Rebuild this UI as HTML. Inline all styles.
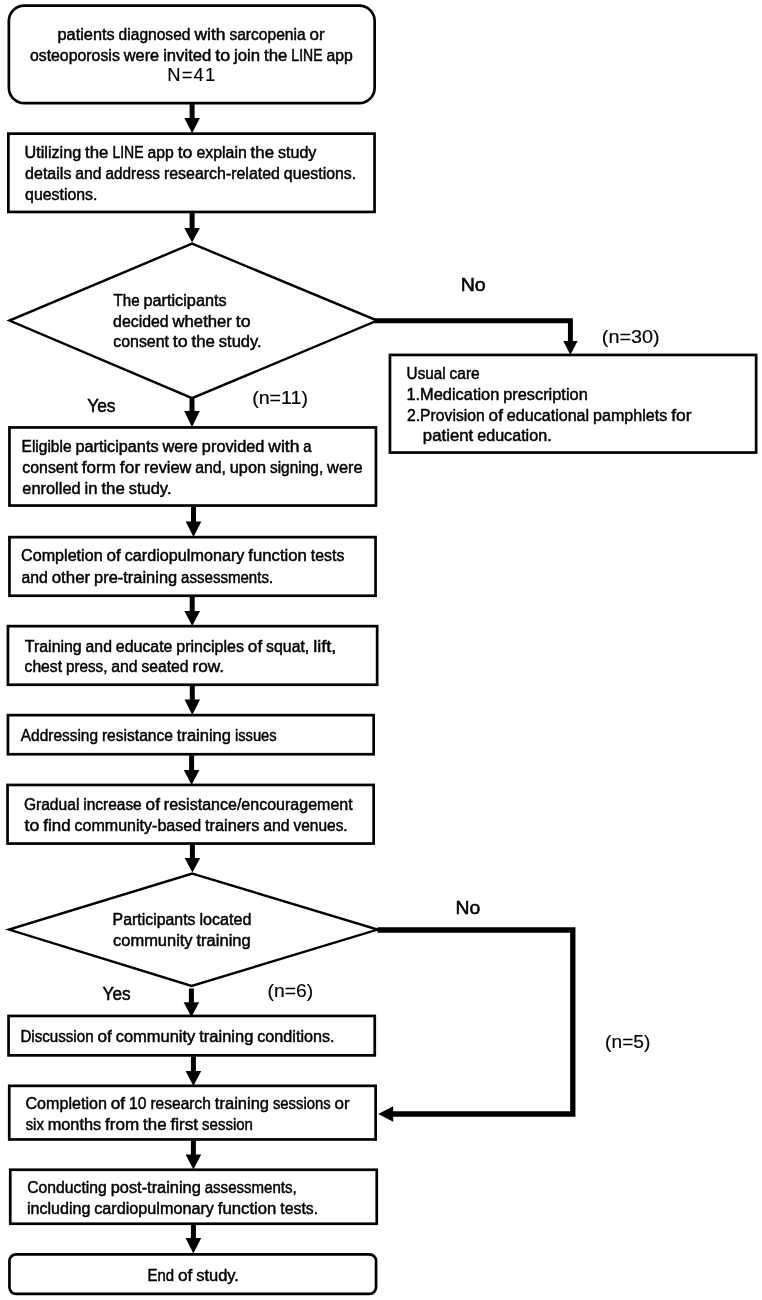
<!DOCTYPE html>
<html><head><meta charset="utf-8"><title>Flowchart</title>
<style>
html,body{margin:0;padding:0;background:#fff;}
body{width:762px;height:1300px;overflow:hidden;}
svg{display:block;will-change:transform;filter:grayscale(1);}
text{font-family:"Liberation Sans",sans-serif;fill:#000;stroke:#000;stroke-width:0.45;}
text.lt{stroke-width:0.15;}
text.md{stroke-width:0.5;}
</style></head><body>
<svg width="762" height="1300" viewBox="0 0 762 1300">
<rect x="0" y="0" width="762" height="1300" fill="#fff"/>
<rect x="8.85" y="5.55" width="365.80" height="97.60" rx="15.5" ry="15.5" fill="#fff" stroke="#000" stroke-width="2.7"/>
<rect x="8.35" y="133.65" width="366.20" height="78.30" rx="0" ry="0" fill="#fff" stroke="#000" stroke-width="2.7"/>
<polygon points="192.10,243.60 377.20,320.60 192.10,398.20 9.45,320.60" fill="#fff" stroke="#000" stroke-width="2.4" stroke-linejoin="miter"/>
<rect x="389.95" y="354.95" width="366.20" height="97.60" rx="0" ry="0" fill="#fff" stroke="#000" stroke-width="2.7"/>
<rect x="9.45" y="427.45" width="366.50" height="78.10" rx="0" ry="0" fill="#fff" stroke="#000" stroke-width="2.7"/>
<rect x="9.45" y="537.15" width="366.10" height="58.60" rx="0" ry="0" fill="#fff" stroke="#000" stroke-width="2.7"/>
<rect x="7.95" y="626.15" width="369.20" height="58.60" rx="0" ry="0" fill="#fff" stroke="#000" stroke-width="2.7"/>
<rect x="7.95" y="715.15" width="365.70" height="39.10" rx="0" ry="0" fill="#fff" stroke="#000" stroke-width="2.7"/>
<rect x="7.55" y="784.95" width="366.10" height="58.60" rx="0" ry="0" fill="#fff" stroke="#000" stroke-width="2.7"/>
<polygon points="192.30,873.60 377.60,929.60 191.60,986.00 9.00,929.60" fill="#fff" stroke="#000" stroke-width="2.4" stroke-linejoin="miter"/>
<rect x="8.55" y="1015.95" width="366.20" height="39.40" rx="0" ry="0" fill="#fff" stroke="#000" stroke-width="2.7"/>
<rect x="9.25" y="1085.85" width="366.40" height="53.60" rx="0" ry="0" fill="#fff" stroke="#000" stroke-width="2.7"/>
<rect x="10.25" y="1169.75" width="366.50" height="54.00" rx="0" ry="0" fill="#fff" stroke="#000" stroke-width="2.7"/>
<rect x="9.45" y="1254.35" width="366.60" height="39.50" rx="6.5" ry="6.5" fill="#fff" stroke="#000" stroke-width="2.7"/>
<rect x="189.60" y="104.00" width="5" height="14.50" fill="#000"/>
<polygon points="184.30,118.00 199.90,118.00 192.10,133.20" fill="#000"/>
<rect x="189.60" y="213.00" width="5" height="15.50" fill="#000"/>
<polygon points="184.30,228.00 199.90,228.00 192.10,242.60" fill="#000"/>
<rect x="189.50" y="398.50" width="5" height="13.00" fill="#000"/>
<polygon points="184.20,411.00 199.80,411.00 192.00,427.00" fill="#000"/>
<rect x="191.00" y="506.50" width="5" height="15.50" fill="#000"/>
<polygon points="185.70,521.50 201.30,521.50 193.50,536.90" fill="#000"/>
<rect x="189.70" y="596.80" width="5" height="14.70" fill="#000"/>
<polygon points="184.40,611.00 200.00,611.00 192.20,626.00" fill="#000"/>
<rect x="189.80" y="685.80" width="5" height="14.10" fill="#000"/>
<polygon points="184.50,699.40 200.10,699.40 192.30,714.90" fill="#000"/>
<rect x="189.10" y="755.30" width="5" height="15.20" fill="#000"/>
<polygon points="183.80,770.00 199.40,770.00 191.60,784.90" fill="#000"/>
<rect x="189.90" y="844.60" width="5" height="13.90" fill="#000"/>
<polygon points="184.60,858.00 200.20,858.00 192.40,872.60" fill="#000"/>
<rect x="188.90" y="988.50" width="5" height="14.30" fill="#000"/>
<polygon points="183.60,1002.30 199.20,1002.30 191.40,1016.90" fill="#000"/>
<rect x="190.90" y="1056.40" width="5" height="15.20" fill="#000"/>
<polygon points="185.60,1071.10 201.20,1071.10 193.40,1085.90" fill="#000"/>
<rect x="190.90" y="1140.50" width="5" height="14.50" fill="#000"/>
<polygon points="185.60,1154.50 201.20,1154.50 193.40,1169.50" fill="#000"/>
<rect x="190.90" y="1224.80" width="5" height="13.70" fill="#000"/>
<polygon points="185.60,1238.00 201.20,1238.00 193.40,1253.50" fill="#000"/>
<path d="M374.5 320.7 H570.4 V342" fill="none" stroke="#000" stroke-width="4.9" stroke-linejoin="miter"/>
<polygon points="563.2,341.1 577.6,341.1 570.4,354.8" fill="#000"/>
<path d="M377.5 930 H572.8 V1114 H392" fill="none" stroke="#000" stroke-width="5.3" stroke-linejoin="miter"/>
<polygon points="393.2,1106.2 393.2,1121.8 378.2,1114" fill="#000"/>
<g font-size="15.6">
<text x="57.53" y="39.70" textLength="57.19" lengthAdjust="spacingAndGlyphs">patients</text>
<text x="118.61" y="39.70" textLength="71.89" lengthAdjust="spacingAndGlyphs">diagnosed</text>
<text x="194.40" y="39.70" textLength="31.10" lengthAdjust="spacingAndGlyphs">with</text>
<text x="229.39" y="39.70" textLength="76.29" lengthAdjust="spacingAndGlyphs">sarcopenia</text>
<text x="309.58" y="39.70" textLength="15.10" lengthAdjust="spacingAndGlyphs">or</text>
</g>
<g font-size="15.6">
<text x="29.90" y="60.70" textLength="89.94" lengthAdjust="spacingAndGlyphs">osteoporosis</text>
<text x="123.74" y="60.70" textLength="35.51" lengthAdjust="spacingAndGlyphs">were</text>
<text x="163.15" y="60.70" textLength="48.15" lengthAdjust="spacingAndGlyphs">invited</text>
<text x="215.20" y="60.70" textLength="14.86" lengthAdjust="spacingAndGlyphs">to</text>
<text x="233.96" y="60.70" textLength="26.20" lengthAdjust="spacingAndGlyphs">join</text>
<text x="264.06" y="60.70" textLength="23.41" lengthAdjust="spacingAndGlyphs">the</text>
<text x="291.37" y="60.70" textLength="31.14" lengthAdjust="spacingAndGlyphs">LINE</text>
<text x="326.40" y="60.70" textLength="26.36" lengthAdjust="spacingAndGlyphs">app</text>
</g>
<text x="167.28" y="81.40" font-size="18.4" textLength="47.91" lengthAdjust="spacing" class="lt sp">N=41</text>
<g font-size="15.6">
<text x="24.57" y="158.20" textLength="56.62" lengthAdjust="spacingAndGlyphs">Utilizing</text>
<text x="85.08" y="158.20" textLength="23.41" lengthAdjust="spacingAndGlyphs">the</text>
<text x="112.39" y="158.20" textLength="31.14" lengthAdjust="spacingAndGlyphs">LINE</text>
<text x="147.42" y="158.20" textLength="26.36" lengthAdjust="spacingAndGlyphs">app</text>
<text x="177.68" y="158.20" textLength="14.86" lengthAdjust="spacingAndGlyphs">to</text>
<text x="196.44" y="158.20" textLength="50.31" lengthAdjust="spacingAndGlyphs">explain</text>
<text x="250.64" y="158.20" textLength="23.41" lengthAdjust="spacingAndGlyphs">the</text>
<text x="277.95" y="158.20" textLength="38.43" lengthAdjust="spacingAndGlyphs">study</text>
</g>
<g font-size="15.6">
<text x="25.10" y="178.80" textLength="46.31" lengthAdjust="spacingAndGlyphs">details</text>
<text x="75.30" y="178.80" textLength="26.36" lengthAdjust="spacingAndGlyphs">and</text>
<text x="105.56" y="178.80" textLength="54.44" lengthAdjust="spacingAndGlyphs">address</text>
<text x="163.90" y="178.80" textLength="116.04" lengthAdjust="spacingAndGlyphs">research-related</text>
<text x="283.84" y="178.80" textLength="72.37" lengthAdjust="spacingAndGlyphs">questions.</text>
</g>
<g font-size="15.6">
<text x="25.11" y="199.70" textLength="72.37" lengthAdjust="spacingAndGlyphs">questions.</text>
</g>
<g font-size="15.6">
<text x="113.56" y="306.00" textLength="26.03" lengthAdjust="spacingAndGlyphs">The</text>
<text x="143.49" y="306.00" textLength="83.17" lengthAdjust="spacingAndGlyphs">participants</text>
</g>
<g font-size="15.6">
<text x="113.08" y="326.70" textLength="55.56" lengthAdjust="spacingAndGlyphs">decided</text>
<text x="172.54" y="326.70" textLength="59.39" lengthAdjust="spacingAndGlyphs">whether</text>
<text x="235.83" y="326.70" textLength="14.86" lengthAdjust="spacingAndGlyphs">to</text>
</g>
<g font-size="15.6">
<text x="113.31" y="347.30" textLength="55.58" lengthAdjust="spacingAndGlyphs">consent</text>
<text x="172.79" y="347.30" textLength="14.86" lengthAdjust="spacingAndGlyphs">to</text>
<text x="191.55" y="347.30" textLength="23.41" lengthAdjust="spacingAndGlyphs">the</text>
<text x="218.86" y="347.30" textLength="42.77" lengthAdjust="spacingAndGlyphs">study.</text>
</g>
<text x="460.67" y="291.20" font-size="18.1" textLength="25.08" lengthAdjust="spacingAndGlyphs" class="md">No</text>
<text x="601.82" y="343.00" font-size="18.6" textLength="57.92" lengthAdjust="spacingAndGlyphs" class="lt">(n=30)</text>
<text x="87.21" y="411.60" font-size="17.6" textLength="28.34" lengthAdjust="spacingAndGlyphs" class="md">Yes</text>
<text x="252.17" y="404.10" font-size="18.2" textLength="55.82" lengthAdjust="spacingAndGlyphs" class="lt">(n=11)</text>
<g font-size="15.6">
<text x="406.61" y="378.80" textLength="39.07" lengthAdjust="spacingAndGlyphs">Usual</text>
<text x="449.57" y="378.80" textLength="30.15" lengthAdjust="spacingAndGlyphs">care</text>
</g>
<g font-size="15.6">
<text x="406.47" y="399.90" textLength="92.82" lengthAdjust="spacingAndGlyphs">1.Medication</text>
<text x="503.18" y="399.90" textLength="84.56" lengthAdjust="spacingAndGlyphs">prescription</text>
</g>
<g font-size="15.6">
<text x="407.02" y="420.50" textLength="77.67" lengthAdjust="spacingAndGlyphs">2.Provision</text>
<text x="488.59" y="420.50" textLength="14.34" lengthAdjust="spacingAndGlyphs">of</text>
<text x="506.83" y="420.50" textLength="82.30" lengthAdjust="spacingAndGlyphs">educational</text>
<text x="593.03" y="420.50" textLength="74.24" lengthAdjust="spacingAndGlyphs">pamphlets</text>
<text x="671.16" y="420.50" textLength="20.36" lengthAdjust="spacingAndGlyphs">for</text>
</g>
<g font-size="15.6">
<text x="422.85" y="440.90" textLength="50.44" lengthAdjust="spacingAndGlyphs">patient</text>
<text x="477.19" y="440.90" textLength="74.44" lengthAdjust="spacingAndGlyphs">education.</text>
</g>
<g font-size="15.6">
<text x="21.56" y="452.00" textLength="49.96" lengthAdjust="spacingAndGlyphs">Eligible</text>
<text x="75.41" y="452.00" textLength="83.17" lengthAdjust="spacingAndGlyphs">participants</text>
<text x="162.48" y="452.00" textLength="35.51" lengthAdjust="spacingAndGlyphs">were</text>
<text x="201.89" y="452.00" textLength="62.58" lengthAdjust="spacingAndGlyphs">provided</text>
<text x="268.36" y="452.00" textLength="31.10" lengthAdjust="spacingAndGlyphs">with</text>
<text x="303.36" y="452.00" textLength="8.26" lengthAdjust="spacingAndGlyphs">a</text>
</g>
<g font-size="15.6">
<text x="22.34" y="472.70" textLength="55.58" lengthAdjust="spacingAndGlyphs">consent</text>
<text x="81.82" y="472.70" textLength="34.14" lengthAdjust="spacingAndGlyphs">form</text>
<text x="119.85" y="472.70" textLength="20.36" lengthAdjust="spacingAndGlyphs">for</text>
<text x="144.10" y="472.70" textLength="47.25" lengthAdjust="spacingAndGlyphs">review</text>
<text x="195.25" y="472.70" textLength="30.67" lengthAdjust="spacingAndGlyphs">and,</text>
<text x="229.82" y="472.70" textLength="36.24" lengthAdjust="spacingAndGlyphs">upon</text>
<text x="269.96" y="472.70" textLength="53.29" lengthAdjust="spacingAndGlyphs">signing,</text>
<text x="327.14" y="472.70" textLength="35.51" lengthAdjust="spacingAndGlyphs">were</text>
</g>
<g font-size="15.6">
<text x="22.34" y="493.50" textLength="58.27" lengthAdjust="spacingAndGlyphs">enrolled</text>
<text x="84.51" y="493.50" textLength="13.00" lengthAdjust="spacingAndGlyphs">in</text>
<text x="101.40" y="493.50" textLength="23.41" lengthAdjust="spacingAndGlyphs">the</text>
<text x="128.71" y="493.50" textLength="42.77" lengthAdjust="spacingAndGlyphs">study.</text>
</g>
<g font-size="15.6">
<text x="21.11" y="561.30" textLength="81.49" lengthAdjust="spacingAndGlyphs">Completion</text>
<text x="106.50" y="561.30" textLength="14.34" lengthAdjust="spacingAndGlyphs">of</text>
<text x="124.74" y="561.30" textLength="119.70" lengthAdjust="spacingAndGlyphs">cardiopulmonary</text>
<text x="248.34" y="561.30" textLength="58.51" lengthAdjust="spacingAndGlyphs">function</text>
<text x="310.75" y="561.30" textLength="33.62" lengthAdjust="spacingAndGlyphs">tests</text>
</g>
<g font-size="15.6">
<text x="21.43" y="582.90" textLength="26.36" lengthAdjust="spacingAndGlyphs">and</text>
<text x="51.68" y="582.90" textLength="38.51" lengthAdjust="spacingAndGlyphs">other</text>
<text x="94.09" y="582.90" textLength="83.10" lengthAdjust="spacingAndGlyphs">pre-training</text>
<text x="181.09" y="582.90" textLength="92.08" lengthAdjust="spacingAndGlyphs">assessments.</text>
</g>
<g font-size="15.6">
<text x="24.89" y="651.50" textLength="56.79" lengthAdjust="spacingAndGlyphs">Training</text>
<text x="85.58" y="651.50" textLength="26.36" lengthAdjust="spacingAndGlyphs">and</text>
<text x="115.83" y="651.50" textLength="56.60" lengthAdjust="spacingAndGlyphs">educate</text>
<text x="176.33" y="651.50" textLength="67.63" lengthAdjust="spacingAndGlyphs">principles</text>
<text x="247.86" y="651.50" textLength="14.34" lengthAdjust="spacingAndGlyphs">of</text>
<text x="266.10" y="651.50" textLength="43.19" lengthAdjust="spacingAndGlyphs">squat,</text>
<text x="313.18" y="651.50" textLength="23.24" lengthAdjust="spacingAndGlyphs">lift,</text>
</g>
<g font-size="15.6">
<text x="24.59" y="672.10" textLength="37.45" lengthAdjust="spacingAndGlyphs">chest</text>
<text x="65.93" y="672.10" textLength="41.44" lengthAdjust="spacingAndGlyphs">press,</text>
<text x="111.27" y="672.10" textLength="26.36" lengthAdjust="spacingAndGlyphs">and</text>
<text x="141.53" y="672.10" textLength="47.00" lengthAdjust="spacingAndGlyphs">seated</text>
<text x="192.42" y="672.10" textLength="31.77" lengthAdjust="spacingAndGlyphs">row.</text>
</g>
<g font-size="15.6">
<text x="20.76" y="741.00" textLength="77.29" lengthAdjust="spacingAndGlyphs">Addressing</text>
<text x="101.95" y="741.00" textLength="70.99" lengthAdjust="spacingAndGlyphs">resistance</text>
<text x="176.84" y="741.00" textLength="54.17" lengthAdjust="spacingAndGlyphs">training</text>
<text x="234.90" y="741.00" textLength="41.81" lengthAdjust="spacingAndGlyphs">issues</text>
</g>
<g font-size="15.6">
<text x="23.90" y="810.10" textLength="55.46" lengthAdjust="spacingAndGlyphs">Gradual</text>
<text x="83.26" y="810.10" textLength="58.48" lengthAdjust="spacingAndGlyphs">increase</text>
<text x="145.63" y="810.10" textLength="14.34" lengthAdjust="spacingAndGlyphs">of</text>
<text x="163.87" y="810.10" textLength="188.88" lengthAdjust="spacingAndGlyphs">resistance/encouragement</text>
</g>
<g font-size="15.6">
<text x="24.61" y="830.90" textLength="14.86" lengthAdjust="spacingAndGlyphs">to</text>
<text x="43.36" y="830.90" textLength="27.31" lengthAdjust="spacingAndGlyphs">find</text>
<text x="74.57" y="830.90" textLength="126.52" lengthAdjust="spacingAndGlyphs">community-based</text>
<text x="204.99" y="830.90" textLength="54.39" lengthAdjust="spacingAndGlyphs">trainers</text>
<text x="263.28" y="830.90" textLength="26.36" lengthAdjust="spacingAndGlyphs">and</text>
<text x="293.53" y="830.90" textLength="54.15" lengthAdjust="spacingAndGlyphs">venues.</text>
</g>
<g font-size="15.6">
<text x="112.54" y="925.30" textLength="83.03" lengthAdjust="spacingAndGlyphs">Participants</text>
<text x="199.46" y="925.30" textLength="52.00" lengthAdjust="spacingAndGlyphs">located</text>
</g>
<g font-size="15.6">
<text x="113.06" y="946.10" textLength="79.56" lengthAdjust="spacingAndGlyphs">community</text>
<text x="196.52" y="946.10" textLength="54.17" lengthAdjust="spacingAndGlyphs">training</text>
</g>
<text x="455.45" y="914.10" font-size="17.8" textLength="24.72" lengthAdjust="spacingAndGlyphs" class="md">No</text>
<text x="102.62" y="999.90" font-size="17.6" textLength="28.10" lengthAdjust="spacingAndGlyphs" class="md">Yes</text>
<text x="267.59" y="997.40" font-size="17.8" textLength="45.63" lengthAdjust="spacingAndGlyphs" class="lt">(n=6)</text>
<text x="605.10" y="1047.80" font-size="17.8" textLength="45.28" lengthAdjust="spacingAndGlyphs" class="lt">(n=5)</text>
<g font-size="15.6">
<text x="20.39" y="1042.00" textLength="73.20" lengthAdjust="spacingAndGlyphs">Discussion</text>
<text x="97.49" y="1042.00" textLength="14.34" lengthAdjust="spacingAndGlyphs">of</text>
<text x="115.73" y="1042.00" textLength="79.56" lengthAdjust="spacingAndGlyphs">community</text>
<text x="199.19" y="1042.00" textLength="54.17" lengthAdjust="spacingAndGlyphs">training</text>
<text x="257.25" y="1042.00" textLength="77.37" lengthAdjust="spacingAndGlyphs">conditions.</text>
</g>
<g font-size="15.6">
<text x="25.43" y="1109.00" textLength="81.49" lengthAdjust="spacingAndGlyphs">Completion</text>
<text x="110.82" y="1109.00" textLength="14.34" lengthAdjust="spacingAndGlyphs">of</text>
<text x="129.06" y="1109.00" textLength="17.48" lengthAdjust="spacingAndGlyphs">10</text>
<text x="150.43" y="1109.00" textLength="60.55" lengthAdjust="spacingAndGlyphs">research</text>
<text x="214.88" y="1109.00" textLength="54.17" lengthAdjust="spacingAndGlyphs">training</text>
<text x="272.94" y="1109.00" textLength="57.63" lengthAdjust="spacingAndGlyphs">sessions</text>
<text x="334.47" y="1109.00" textLength="15.10" lengthAdjust="spacingAndGlyphs">or</text>
</g>
<g font-size="15.6">
<text x="25.66" y="1129.60" textLength="18.15" lengthAdjust="spacingAndGlyphs">six</text>
<text x="47.71" y="1129.60" textLength="53.48" lengthAdjust="spacingAndGlyphs">months</text>
<text x="105.08" y="1129.60" textLength="34.14" lengthAdjust="spacingAndGlyphs">from</text>
<text x="143.11" y="1129.60" textLength="23.41" lengthAdjust="spacingAndGlyphs">the</text>
<text x="170.42" y="1129.60" textLength="27.74" lengthAdjust="spacingAndGlyphs">first</text>
<text x="202.06" y="1129.60" textLength="50.89" lengthAdjust="spacingAndGlyphs">session</text>
</g>
<g font-size="15.6">
<text x="27.20" y="1193.00" textLength="79.61" lengthAdjust="spacingAndGlyphs">Conducting</text>
<text x="110.71" y="1193.00" textLength="90.10" lengthAdjust="spacingAndGlyphs">post-training</text>
<text x="204.71" y="1193.00" textLength="92.04" lengthAdjust="spacingAndGlyphs">assessments,</text>
</g>
<g font-size="15.6">
<text x="26.92" y="1213.60" textLength="63.46" lengthAdjust="spacingAndGlyphs">including</text>
<text x="94.27" y="1213.60" textLength="119.70" lengthAdjust="spacingAndGlyphs">cardiopulmonary</text>
<text x="217.87" y="1213.60" textLength="58.51" lengthAdjust="spacingAndGlyphs">function</text>
<text x="280.28" y="1213.60" textLength="37.96" lengthAdjust="spacingAndGlyphs">tests.</text>
</g>
<g font-size="15.6">
<text x="147.49" y="1280.50" textLength="26.52" lengthAdjust="spacingAndGlyphs">End</text>
<text x="177.91" y="1280.50" textLength="14.34" lengthAdjust="spacingAndGlyphs">of</text>
<text x="196.15" y="1280.50" textLength="42.77" lengthAdjust="spacingAndGlyphs">study.</text>
</g>
</svg>
</body></html>
